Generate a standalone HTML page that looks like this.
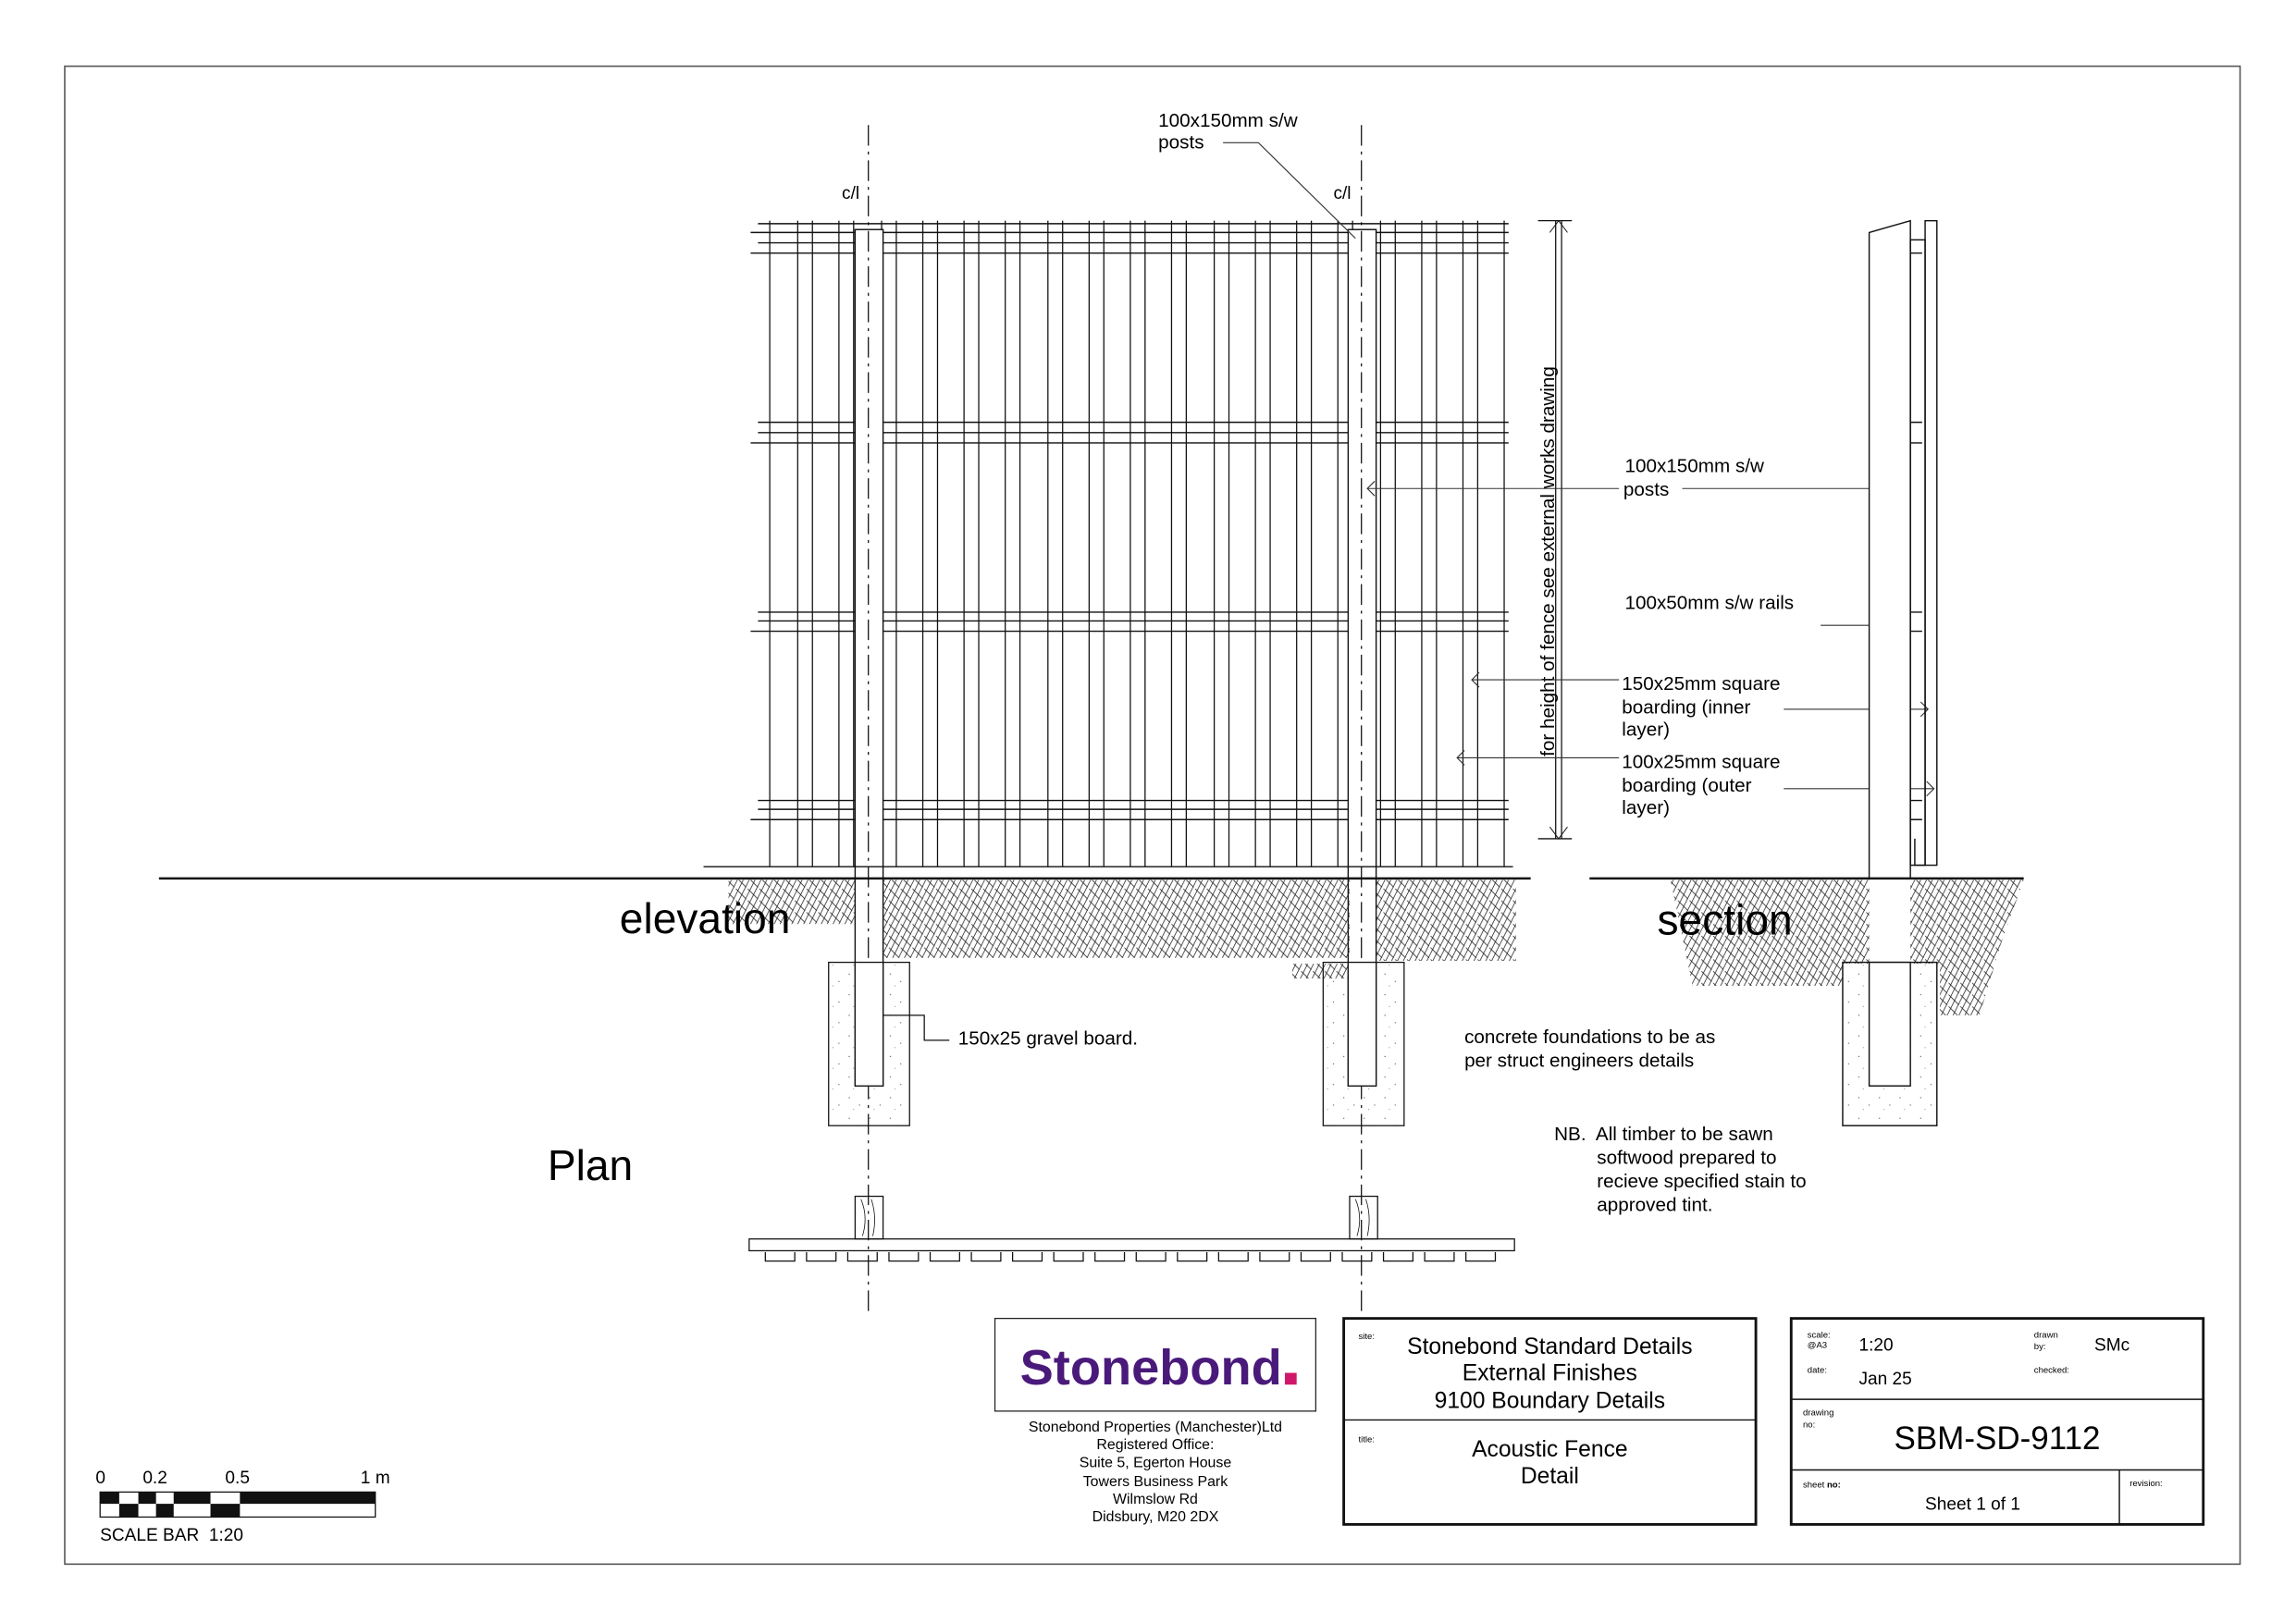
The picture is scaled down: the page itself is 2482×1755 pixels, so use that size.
<!DOCTYPE html>
<html><head><meta charset="utf-8"><style>html,body{margin:0;padding:0;background:#fff}svg{display:block}</style></head>
<body>
<svg width="2482" height="1755" viewBox="0 0 1560 1103" preserveAspectRatio="none" xmlns="http://www.w3.org/2000/svg" font-family="Liberation Sans, sans-serif">
<defs>
<pattern id="h" width="8" height="8" patternUnits="userSpaceOnUse">
<path d="M0 8 L4 0 M4 8 L8 0 M0 0 L3 3 M4 4 L8 8" stroke="#222" stroke-width="0.5" fill="none"/>
</pattern>
<pattern id="c" width="14" height="14" patternUnits="userSpaceOnUse">
<circle cx="3" cy="4" r="0.4" fill="#555"/><circle cx="10" cy="9" r="0.4" fill="#555"/><circle cx="6" cy="12" r="0.3" fill="#555"/>
</pattern>
</defs>
<rect x="44" y="45" width="1478" height="1018" fill="none" stroke="#555" stroke-width="1"/>

<g stroke="#111" fill="none">
<g stroke-width="0.9">
<path d="M515 152H1025 M510 158H1025 M515 165H1025 M510 172H1025"/>
<path d="M515 287H1025 M515 294H1025 M510 301H1025"/>
<path d="M515 416H1025 M515 422H1025 M510 429H1025"/>
<path d="M515 544H1025 M515 550H1025 M510 557H1025"/>
</g>
<g stroke-width="0.8">
<path d="M523 150V589 M1022 150V589"/>
<path d="M542 150V589 M552 150V589 M570 150V589 M580 150V589 M599 150V589 M609 150V589 M627 150V589 M637 150V589 M655 150V589 M665 150V589 M683 150V589 M693 150V589 M712 150V589 M722 150V589 M740 150V589 M750 150V589 M768 150V589 M778 150V589 M796 150V589 M806 150V589 M825 150V589 M835 150V589 M853 150V589 M863 150V589 M881 150V589 M891 150V589 M909 150V589 M919 150V589 M938 150V589 M948 150V589 M966 150V589 M976 150V589 M994 150V589 M1004 150V589"/>
</g>
<rect x="581" y="156" width="19" height="582" fill="#fff" stroke-width="0.9"/>
<rect x="916" y="156" width="19" height="582" fill="#fff" stroke-width="0.9"/>
<path d="M1045 150H1068 M1045 570H1068 M1057 150V570 M1061 150V570" stroke-width="0.8"/>
<path d="M1053 158L1059 150L1065 158 M1053 562L1059 570L1065 562" stroke-width="0.6"/>
</g>
<path d="M590 85V895 M925 85V895" stroke="#111" stroke-width="0.8" stroke-dasharray="14 4 2 4"/>
<text x="572" y="135" font-size="12">c/l</text><text x="906" y="135" font-size="12">c/l</text>

<rect x="495" y="598" width="86" height="30" fill="url(#h)"/>
<rect x="600" y="598" width="317" height="53" fill="url(#h)"/>
<rect x="935" y="598" width="95" height="55" fill="url(#h)"/>
<path d="M878 655H916V665H878Z" fill="url(#h)"/>
<path d="M478 589H1028" stroke="#111" stroke-width="0.9"/>
<path d="M108 597H1040" stroke="#111" stroke-width="1.6"/>
<g stroke="#111" fill="url(#c)" stroke-width="0.8">
<rect x="563" y="654" width="55" height="111"/>
<rect x="899" y="654" width="55" height="111"/>
</g>
<g stroke="#111" fill="none" stroke-width="0.8">
<rect x="581" y="654" width="19" height="84" fill="#fff"/>
<rect x="916" y="654" width="19" height="84" fill="#fff"/>
<path d="M600 690H628V707H645"/>
</g>
<text x="421" y="634" font-size="29">elevation</text>
<text x="651" y="710" font-size="13">150x25 gravel board.</text>

<text x="787" y="86" font-size="13">100x150mm s/w</text>
<text x="787" y="101" font-size="13">posts</text>
<path d="M831 97H855L921 162" stroke="#333" stroke-width="0.7" fill="none"/>
<text transform="translate(1056,514) rotate(-90)" font-size="13">for height of fence see external works drawing</text>

<g font-size="13">
<text x="1104" y="321">100x150mm s/w</text><text x="1103" y="337">posts</text>
<text x="1104" y="414">100x50mm s/w rails</text>
<text x="1102" y="469">150x25mm square</text><text x="1102" y="485">boarding (inner</text><text x="1102" y="500">layer)</text>
<text x="1102" y="522">100x25mm square</text><text x="1102" y="538">boarding (outer</text><text x="1102" y="553">layer)</text>
<text x="995" y="709">concrete foundations to be as</text><text x="995" y="725">per struct engineers details</text>
<text x="1056" y="775">NB.&#160; All timber to be sawn</text><text x="1085" y="791">softwood prepared to</text><text x="1085" y="807">recieve specified stain to</text><text x="1085" y="823">approved tint.</text>
</g>
<g stroke="#333" stroke-width="0.7" fill="none">
<path d="M929 332H1100 M1143 332H1277 M934 327L929 332L934 337 M1272 327L1277 332L1272 337"/>
<path d="M1237 425H1291 M1286 420L1291 425L1286 430"/>
<path d="M1000 462H1100 M1005 457L1000 462L1005 467 M1212 482H1310 M1305 477L1310 482L1305 487"/>
<path d="M990 515H1100 M995 510L990 515L995 520 M1212 536H1314 M1309 531L1314 536L1309 541"/>
</g>

<path d="M1135 598H1375L1360 640L1345 690H1318V655H1252V670H1150Z" fill="url(#h)"/>
<rect x="1270" y="598" width="28" height="56" fill="#fff"/>
<g stroke="#111" fill="none" stroke-width="0.9">
<path d="M1270 158L1298 150V597H1270Z" fill="#fff"/>
<rect x="1298" y="163" width="10" height="425"/>
<rect x="1308" y="150" width="8" height="438"/>
<path d="M1298 172H1306 M1298 287H1306 M1298 301H1306 M1298 416H1306 M1298 429H1306 M1298 544H1306 M1298 557H1306"/>
<path d="M1301 570V588H1308"/>
<rect x="1252" y="654" width="64" height="111" fill="url(#c)"/>
<rect x="1270" y="654" width="28" height="84" fill="#fff"/>
</g>
<path d="M1080 597H1375" stroke="#111" stroke-width="1.6"/>
<text x="1126" y="635" font-size="29">section</text>

<text x="372" y="802" font-size="29">Plan</text>
<g stroke="#111" fill="none" stroke-width="0.8">
<rect x="509" y="842" width="520" height="8"/>
<path d="M520 851V857H540V851 M548 851V857H568V851 M576 851V857H596V851 M604 851V857H624V851 M632 851V857H652V851 M660 851V857H680V851 M688 851V857H708V851 M716 851V857H736V851 M744 851V857H764V851 M772 851V857H792V851 M800 851V857H820V851 M828 851V857H848V851 M856 851V857H876V851 M884 851V857H904V851 M912 851V857H932V851 M940 851V857H960V851 M968 851V857H988V851 M996 851V857H1016V851"/>
<rect x="581" y="813" width="19" height="29"/>
<rect x="917" y="813" width="19" height="29"/>
<path d="M585 815Q590 827 586 840 M592 815Q596 827 593 840 M921 815Q926 827 922 840 M928 815Q932 827 929 840" stroke-width="0.5"/>
</g>

<g font-size="12">
<text x="65" y="1008">0</text><text x="97" y="1008">0.2</text><text x="153" y="1008">0.5</text><text x="245" y="1008">1 m</text>
<text x="68" y="1047">SCALE BAR&#160; 1:20</text>
</g>
<rect x="68" y="1014" width="187" height="17" fill="none" stroke="#111" stroke-width="0.8"/>
<g fill="#111">
<rect x="68" y="1014" width="13" height="8"/><rect x="94" y="1014" width="12" height="8"/><rect x="118" y="1014" width="25" height="8"/><rect x="163" y="1014" width="92" height="8"/>
<rect x="81" y="1022" width="13" height="9"/><rect x="106" y="1022" width="12" height="9"/><rect x="143" y="1022" width="20" height="9"/>
</g>

<rect x="676" y="896" width="218" height="63" fill="none" stroke="#222" stroke-width="0.8"/>
<text x="693" y="941" font-size="34" font-weight="bold" fill="#4a1a7a" textLength="178" lengthAdjust="spacingAndGlyphs">Stonebond</text>
<rect x="873" y="933" width="8" height="8" fill="#d0186a"/>
<g font-size="10" text-anchor="middle">
<text x="785" y="973">Stonebond Properties (Manchester)Ltd</text>
<text x="785" y="985">Registered Office:</text>
<text x="785" y="997">Suite 5, Egerton House</text>
<text x="785" y="1010">Towers Business Park</text>
<text x="785" y="1022">Wilmslow Rd</text>
<text x="785" y="1034">Didsbury, M20 2DX</text>
</g>

<rect x="913" y="896" width="280" height="140" fill="none" stroke="#111" stroke-width="1.8"/>
<path d="M913 965H1193" stroke="#111" stroke-width="0.9"/>
<text x="923" y="910" font-size="6">site:</text><text x="923" y="980" font-size="6">title:</text>
<g font-size="15.5" text-anchor="middle">
<text x="1053" y="920">Stonebond Standard Details</text>
<text x="1053" y="938">External Finishes</text>
<text x="1053" y="957">9100 Boundary Details</text>
<text x="1053" y="990">Acoustic Fence</text>
<text x="1053" y="1008">Detail</text>
</g>

<rect x="1217" y="896" width="280" height="140" fill="none" stroke="#111" stroke-width="1.8"/>
<path d="M1217 951H1497 M1217 999H1497 M1440 999V1036" stroke="#111" stroke-width="0.9"/>
<g font-size="6">
<text x="1228" y="909">scale:</text><text x="1228" y="916">@A3</text>
<text x="1382" y="909">drawn</text><text x="1382" y="917">by:</text>
<text x="1228" y="933">date:</text><text x="1382" y="933">checked:</text>
<text x="1225" y="962">drawing</text><text x="1225" y="970">no:</text>
<text x="1225" y="1011">sheet <tspan font-weight="bold">no:</tspan></text>
<text x="1447" y="1010">revision:</text>
</g>
<g font-size="12"><text x="1263" y="918">1:20</text><text x="1423" y="918">SMc</text><text x="1263" y="941">Jan 25</text><text x="1308" y="1026">Sheet 1 of 1</text></g>
<text x="1357" y="985" font-size="22" text-anchor="middle">SBM-SD-9112</text>
</svg>
</body></html>
